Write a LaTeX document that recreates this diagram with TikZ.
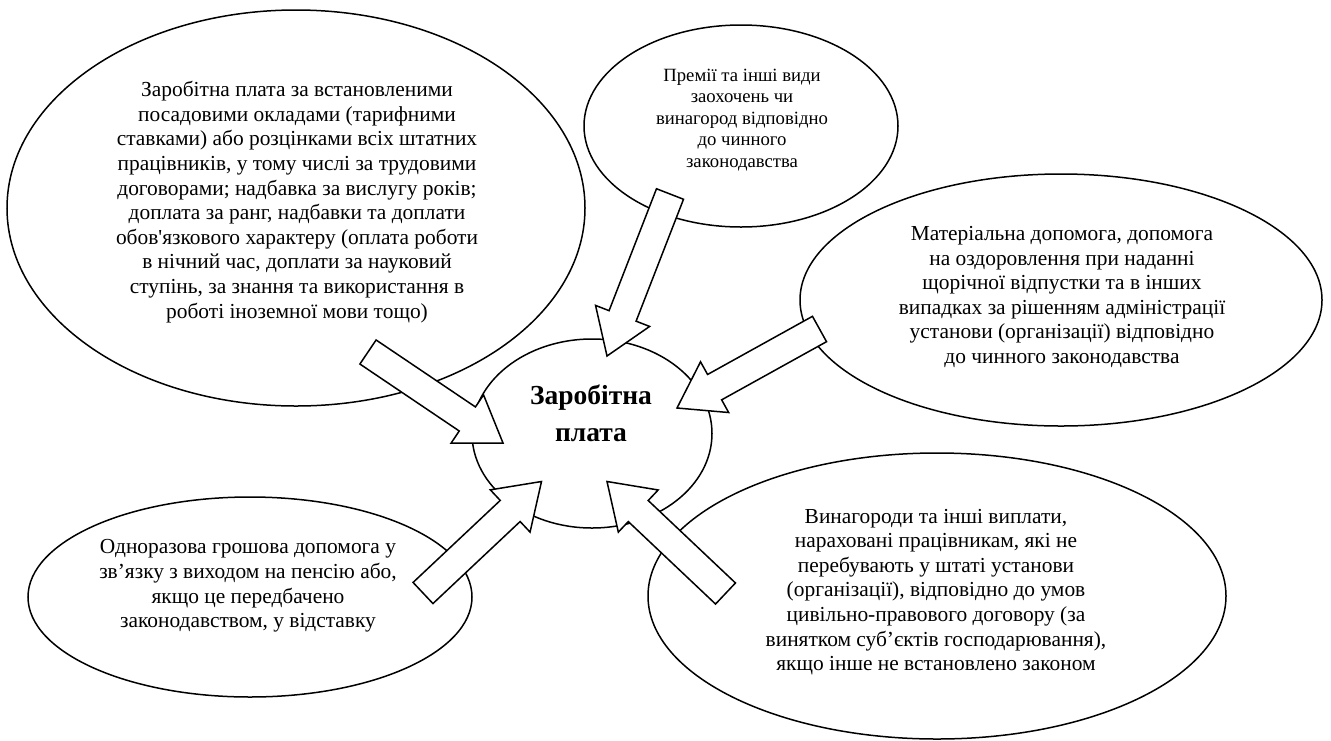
\documentclass[tikz,border=0pt]{standalone}
\usepackage{fontspec}
\setmainfont{Liberation Serif}[Ligatures=TeXOff]
\usetikzlibrary{shapes.geometric,calc}
\tikzset{
  oval/.style={draw=black, line width=1.5pt, fill=white, ellipse, inner sep=0pt, outer sep=0pt},
  txt/.style={align=center, inner sep=0pt, font=\fontsize{21.4}{24.6}\selectfont},
  smalltxt/.style={align=center, inner sep=0pt, font=\fontsize{18.7}{21.5}\selectfont},
  bigtxt/.style={align=center, inner sep=0pt, font=\fontsize{27.5}{37}\selectfont\bfseries},
  blockarrow/.style={draw=black, line width=1.5pt, fill=white, line join=miter},
}
\newcommand\blockarr[2]{%
  \coordinate (#1-b) at ($(#2)!43pt!(#1)$);
  \draw[blockarrow]
    ($(#1)!14.5pt!90:(#2)$) -- ($(#1-b)!14.5pt!90:(#2)$) -- ($(#1-b)!29pt!90:(#2)$)
    -- (#2)
    -- ($(#1-b)!29pt!-90:(#2)$) -- ($(#1-b)!14.5pt!-90:(#2)$) -- ($(#1)!14.5pt!-90:(#2)$) -- cycle;
}
\begin{document}
\begin{tikzpicture}[x=1pt,y=-1pt]
\useasboundingbox (0,0) rectangle (1331,740);
\fill[white] (0,0) rectangle (1331,740);

% ellipses
\node[oval, minimum width=578pt, minimum height=396pt] (e1) at (296,208) {};
\node[oval, minimum width=314pt, minimum height=202pt] (e2) at (741,126) {};
\node[oval, minimum width=522pt, minimum height=252pt] (e3) at (1061,300) {};
\node[oval, minimum width=578pt, minimum height=286pt] (e4) at (937,596) {};
\node[oval, minimum width=444pt, minimum height=200pt] (e5) at (250,597) {};
\node[oval, minimum width=240pt, minimum height=189pt] (c) at (592,433.5) {};

% texts
\node[txt] (t1) at (297,202) {Заробітна плата за встановленими\\посадовими окладами (тарифними\\ставками) або розцінками всіх штатних\\працівників, у тому числі за трудовими\\договорами; надбавка за вислугу років;\\доплата за ранг, надбавки та доплати\\обов'язкового характеру (оплата роботи\\в нічний час, доплати за науковий\\ступінь, за знання та використання в\\роботі іноземної мови тощо)};
\node[smalltxt] (t2) at (742,120) {Премії та інші види\\заохочень чи\\винагород відповідно\\до чинного\\законодавства};
\node[txt] (t3) at (1062,297) {Матеріальна допомога, допомога\\на оздоровлення при наданні\\щорічної відпустки та в інших\\випадках за рішенням адміністрації\\установи (організації) відповідно\\до чинного законодавства};
\node[txt] (t4) at (936,592) {Винагороди та інші виплати,\\нараховані працівникам, які не\\перебувають у штаті установи\\(організації), відповідно до умов\\цивільно-правового договору (за\\винятком суб’єктів господарювання),\\якщо інше не встановлено законом};
\node[txt] (t5) at (248,586) {Одноразова грошова допомога у\\зв’язку з виходом на пенсію або,\\якщо це передбачено\\законодавством, у відставку};
\node[bigtxt] (tc) at (591,413) {Заробітна\\плата};

% arrow end points
\coordinate (a1) at (368,352);   \coordinate (p1) at (503,443);
\coordinate (a2) at (670,194);   \coordinate (p2) at (607,356);
\coordinate (a3) at (819.5,329); \coordinate (p3) at (677,408);
\coordinate (a4) at (423,593);   \coordinate (p4) at (541.5,481.5);
\coordinate (a5) at (725.5,593.5); \coordinate (p5) at (607,481.5);

\blockarr{a1}{p1}
\blockarr{a2}{p2}
\blockarr{a3}{p3}
\blockarr{a4}{p4}
\blockarr{a5}{p5}
\end{tikzpicture}
\end{document}
